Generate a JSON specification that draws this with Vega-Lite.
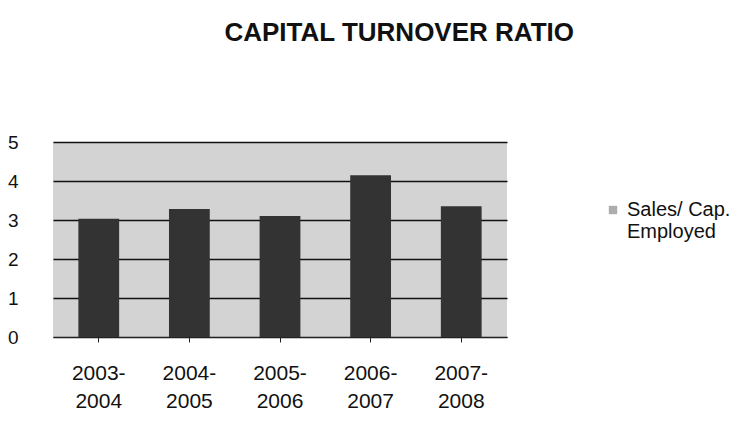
{
  "$schema": "https://vega.github.io/schema/vega-lite/v6.json",
  "width": 454,
  "height": 195,
  "padding": {"left": 7, "top": 20, "right": 5, "bottom": 5},
  "background": "white",
  "title": {
    "text": "CAPITAL TURNOVER RATIO",
    "font": "Liberation Sans",
    "fontSize": 26,
    "fontWeight": "bold",
    "color": "#111",
    "anchor": "middle",
    "frame": "bounds",
    "offset": 87,
    "dx": 30
  },
  "config": {
    "view": {"fill": "#d3d3d3", "stroke": null},
    "font": "Liberation Sans"
  },
  "data": {
    "values": [
      {"year": "2003-2004", "value": 3.03, "series": "Sales/ Cap. Employed"},
      {"year": "2004-2005", "value": 3.28, "series": "Sales/ Cap. Employed"},
      {"year": "2005-2006", "value": 3.1, "series": "Sales/ Cap. Employed"},
      {"year": "2006-2007", "value": 4.15, "series": "Sales/ Cap. Employed"},
      {"year": "2007-2008", "value": 3.35, "series": "Sales/ Cap. Employed"}
    ]
  },
  "mark": {"type": "bar"},
  "encoding": {
    "x": {
      "field": "year",
      "type": "nominal",
      "scale": {"paddingInner": 0.55, "paddingOuter": 0.28},
      "axis": {
        "title": null,
        "labelAngle": 0,
        "labelExpr": "[slice(datum.label,0,5), slice(datum.label,5)]",
        "labelFontSize": 21,
        "labelColor": "#111",
        "labelPadding": 20,
        "labelLineHeight": 28,
        "domainColor": "#222",
        "tickColor": "#222",
        "tickSize": 5
      }
    },
    "y": {
      "field": "value",
      "type": "quantitative",
      "scale": {"domain": [0, 5]},
      "axis": {
        "title": null,
        "values": [0, 1, 2, 3, 4, 5],
        "labelFontSize": 19,
        "labelColor": "#111",
        "labelPadding": 35,
        "domain": false,
        "ticks": false,
        "gridColor": "#111",
        "gridWidth": 1.5
      }
    },
    "color": {
      "field": "series",
      "type": "nominal",
      "scale": {"range": ["#333333"]},
      "legend": {
        "title": null,
        "orient": "none",
        "legendX": 550,
        "legendY": 58,
        "symbolType": "square",
        "symbolSize": 70,
        "symbolOpacity": 0.4,
        "labelFontSize": 20,
        "labelColor": "#111",
        "labelExpr": "['Sales/ Cap.', 'Employed']"
      }
    }
  }
}
